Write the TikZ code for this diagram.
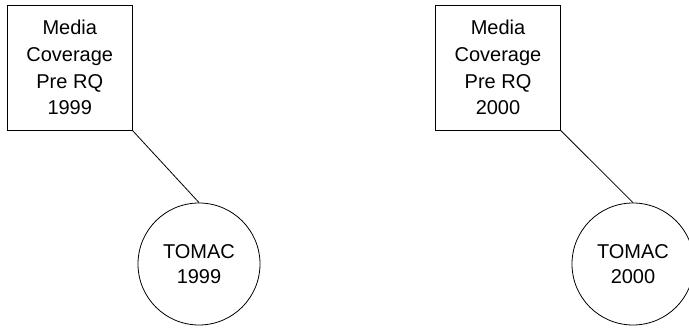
\documentclass[tikz,border=0pt]{standalone}
\usepackage{fontspec}
\setmainfont{Liberation Sans}
\usetikzlibrary{positioning}

\tikzset{
  media/.style={draw, rectangle, minimum width=124.5pt, minimum height=124.5pt,
    inner sep=0pt, align=center, font=\fontsize{20}{26.7}\selectfont},
  tomac/.style={draw, circle, minimum size=122pt, inner sep=0pt,
    align=center, font=\fontsize{20}{25}\selectfont}
}

\begin{document}
\begin{tikzpicture}[x=1pt, y=-1pt, line width=0.8pt]

      \useasboundingbox (0,0) rectangle (689,328);

      \node [media] (media99) at (69.75, 67.75) {Media\\Coverage\\Pre RQ\\1999};
      \node [tomac] (tomac99) at (199, 264) {TOMAC\\1999};

      \node [media] (media00) at (498, 67.75) {Media\\Coverage\\Pre RQ\\2000};
      \node [tomac] (tomac00) at (633, 264) {TOMAC\\2000};

      \draw (media99.south east) -- (tomac99.north);
      \draw (media00.south east) -- (tomac00.north);

    \end{tikzpicture}
\end{document}
